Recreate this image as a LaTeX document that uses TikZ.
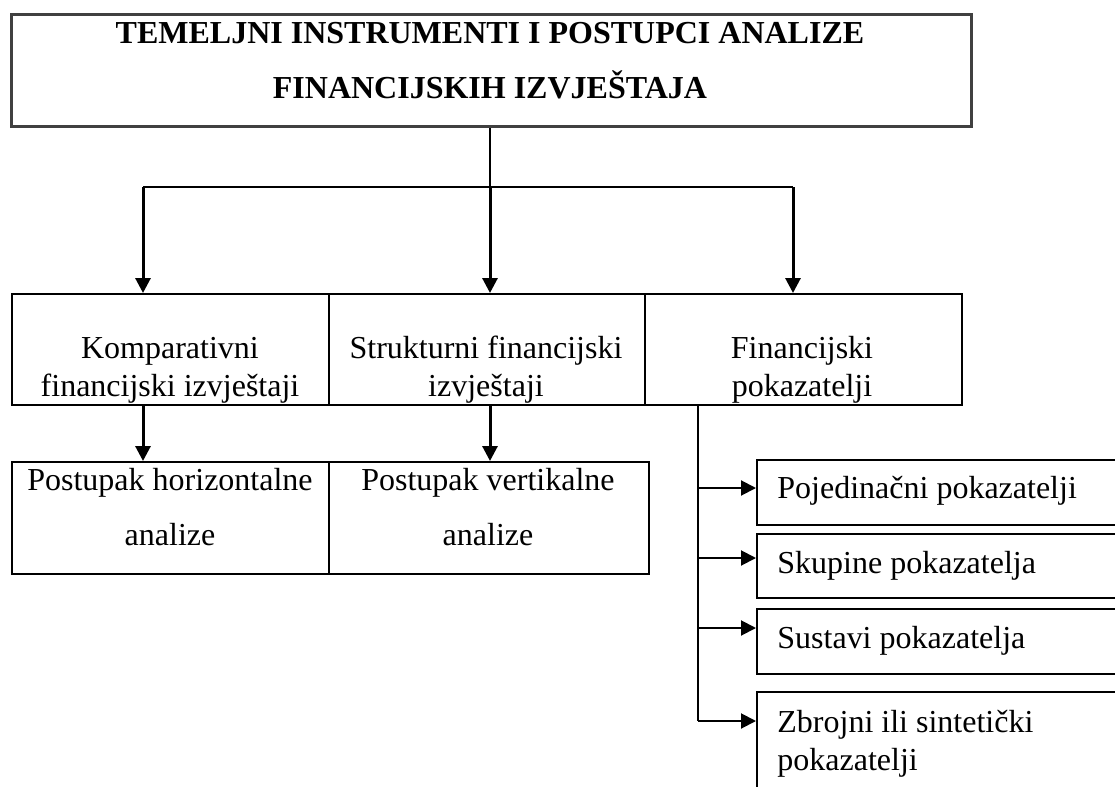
\documentclass[tikz,border=0pt]{standalone}
\usepackage{fontspec}
\setmainfont{Liberation Serif}
\usetikzlibrary{positioning,calc,arrows.meta}

\begin{document}
\begin{tikzpicture}[
        x=0.5pt, y=-0.5pt,
        titlebox/.style={draw=black!75, line width=1.5pt, anchor=north west, inner sep=0, minimum width=480pt, minimum height=56pt},
        rowbox/.style={draw, line width=1pt, anchor=north west, inner sep=0},
        sidebox/.style={draw, line width=1.2pt, anchor=north west, inner sep=0, minimum width=184.5pt},
        txt/.style={inner sep=0, anchor=base, align=center, font=\fontsize{16}{19}\selectfont},
        arr/.style={-{Triangle[length=7.5pt,width=7.5pt]}, line width=1.5pt},
        thinline/.style={line width=0.8pt}
    ]
    \useasboundingbox (0,0) rectangle (1115,787);

    % Title box
    \node[titlebox] (title) at (10,13) {};
    \node[txt, font=\bfseries\fontsize{16}{27.5}\selectfont] (titletext) at (490,98)
        {TEMELJNI INSTRUMENTI I POSTUPCI ANALIZE\\FINANCIJSKIH IZVJEŠTAJA};

    % Middle row
    \node[rowbox, minimum width=158.5pt, minimum height=55.5pt] (komp) at (11,293) {};
    \node[rowbox, minimum width=158pt, minimum height=55.5pt] (strukt) at (328,293) {};
    \node[rowbox, minimum width=158.5pt, minimum height=55.5pt] (pokaz) at (644,293) {};
    \node[txt] (komptext) at (170,396) {Komparativni\\financijski izvještaji};
    \node[txt] (strukttext) at (486,396) {Strukturni financijski\\izvještaji};
    \node[txt] (pokaztext) at (802,396) {Financijski\\pokazatelji};

    % Bottom row
    \node[rowbox, minimum width=158.5pt, minimum height=56pt] (horiz) at (11,461) {};
    \node[rowbox, minimum width=160pt, minimum height=56pt] (vert) at (328,461) {};
    \node[txt, font=\fontsize{16}{27.5}\selectfont] (horiztext) at (170,545) {Postupak horizontalne\\analize};
    \node[txt, font=\fontsize{16}{27.5}\selectfont] (verttext) at (488,545) {Postupak vertikalne\\analize};

    % Kinds of ratios
    \node[sidebox, minimum height=32.5pt] (single) at (756,459) {};
    \node[sidebox, minimum height=32pt] (groups) at (756,533) {};
    \node[sidebox, minimum height=32.5pt] (systems) at (756,608) {};
    \node[sidebox, minimum height=60pt] (synth) at (756,691) {};
    \node[txt, anchor=base west] (singletext) at (777,498) {Pojedinačni pokazatelji};
    \node[txt, anchor=base west] (groupstext) at (777,573) {Skupine pokazatelja};
    \node[txt, anchor=base west] (systemstext) at (777,648) {Sustavi pokazatelja};
    \node[txt, anchor=base west, align=left] (synthtext) at (777,770) {Zbrojni ili sintetički\\pokazatelji};

    % Connectors from the title
    \coordinate (fork) at (490,187);
    \coordinate (forkL) at (143,187);
    \coordinate (forkR) at (793,187);
    \draw[thinline] (title.south -| fork) -- (fork);
    \draw[thinline] (forkL) -- (forkR);
    \draw[arr] (forkL) -- (forkL |- komp.north);
    \draw[arr] (fork) -- (fork |- strukt.north);
    \draw[arr] (forkR) -- (forkR |- pokaz.north);

    % Middle row to bottom row
    \draw[arr] (komp.south -| forkL) -- (forkL |- horiz.north);
    \draw[arr] (strukt.south -| fork) -- (fork |- vert.north);

    % Trunk on the right
    \coordinate (trunk) at (698,721);
    \draw[line width=1pt] (pokaz.south -| trunk) -- (trunk);
    \foreach \b/\y in {single/488, groups/558, systems/628, synth/721}
        \draw[arr, line width=1pt] (trunk |- 0,\y) -- (\b.west |- 0,\y);
\end{tikzpicture}
\end{document}
